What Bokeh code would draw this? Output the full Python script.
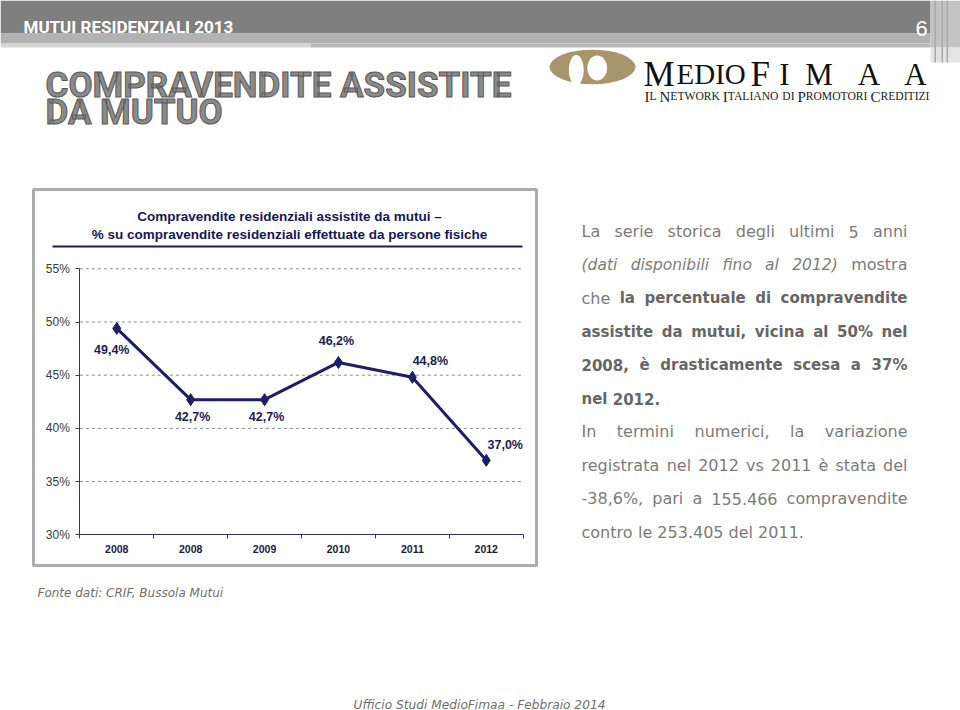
import numpy as np
from bokeh.plotting import figure
from bokeh.models import (Range1d, FixedTicker, PrintfTickFormatter, LabelSet, LinearAxis,
                          ColumnDataSource)
from bokeh.models.glyphs import Text
from bokeh.core.properties import value
from bokeh.embed import file_html
from bokeh.resources import INLINE

# ---------------- data ----------------
years = ["2008", "2008", "2009", "2010", "2011", "2012"]
share = [49.4, 42.7, 42.7, 46.2, 44.8, 37.0]
y_ticks = [30, 35, 40, 45, 50, 55]
y_min, y_max = 30, 55

# label offsets (px, up positive) - layout only
lab_dx = [-5, 2, 2, -2, 18, 19]
lab_dy = [-22, -17, -17, 21, 16, 15]

# ---------------- page layout (page pixels) ----------------
W, H = 960, 710
CX0, CX1 = 79.3, 522.7       # chart plot area, left / right
CY0, CY1 = 268.3, 534.3      # chart plot area, top / bottom

n = len(share)
xs = list(range(n))

ppx = (CX1 - CX0) / n
ppy = (CY1 - CY0) / (y_max - y_min)

p = figure(width=W, height=H, min_border=0,
           x_range=Range1d(0, W), y_range=Range1d(H, 0),
           x_axis_location=None, y_axis_location=None,
           toolbar_location=None, output_backend="svg", title=None)
p.background_fill_color = "white"
p.border_fill_color = "white"
p.outline_line_color = None
p.grid.visible = False

p.extra_x_ranges = {"cx": Range1d(-0.5 - CX0 / ppx, (n - 0.5) + (W - CX1) / ppx)}
p.extra_y_ranges = {"cy": Range1d(y_min - (H - CY1) / ppy, y_max + CY0 / ppy)}
C = dict(x_range_name="cx", y_range_name="cy")

NAVY = "#1d1d6a"
AXIS = "#33337a"
LABC = "#1c1c55"
HAS_OUTLINE = "text_outline_color" in Text.properties()


def box(X0, Y0, X1, Y1, fill=None, line=None, lw=1):
    p.quad(left=[X0], right=[X1], top=[Y0], bottom=[Y1],
           fill_color=fill if fill else "white", fill_alpha=1 if fill else 0,
           line_color=line, line_width=lw)


def txt(X, Y, text, size, color, font="DejaVu Sans", style="normal",
        align="left", baseline="alphabetic", outline=None):
    kw = {}
    if outline and HAS_OUTLINE:
        kw["text_outline_color"] = outline
    p.text(x=[X], y=[Y], text=[text], text_font=value(font),
           text_font_size=value(f"{size}px"), text_color=color,
           text_font_style=style, text_align=align, text_baseline=baseline, **kw)


# ---------------- header ----------------
box(0, 0, 930, 33, fill="#7f7f7f")
box(0, 33, 930, 43, fill="#b2b2b2")
box(0, 43, 310, 47, fill="#d6d6d6")
box(310, 43, 930, 47, fill="#b9b9b9")
box(930, 0, 960, 47, fill="#c2c2c2")
box(930, 47, 960, 62, fill="#e4e4e4")
for xv in (934, 941, 946):
    box(xv, 0, xv + 1.5, 62, fill="#a9a9a9")
txt(23, 26, "MUTUI RESIDENZIALI 2013", 17, "white", font="Roboto", style="bold")
txt(921, 28, "6", 22, "white", font="Liberation Sans", align="center")

# big title
txt(45, 85, "COMPRAVENDITE ASSISTITE", 35, "#8a8a8a", font="Roboto", style="bold",
    outline="#5a5a5a")
txt(45, 112, "DA MUTUO", 35, "#8a8a8a", font="Roboto", style="bold", outline="#5a5a5a")

# logo
GOLD = "#a8956b"
p.ellipse(x=[592], y=[66.5], width=[86], height=[34.6], fill_color=GOLD, line_color=None)
p.ellipse(x=[575.8, 596.7], y=[69.5, 67.5], width=[15, 20], height=[30, 25],
          fill_color="white", line_color=None)
SERIF = "Liberation Serif"
txt(643, 73.5, "M", 35, "#111111", font=SERIF)
txt(676, 73.5, "EDIO", 29, "#111111", font=SERIF)
txt(750, 73.5, "F", 35, "#111111", font=SERIF)
for cx, ch in zip((784, 818.5, 868.5, 915), "IMAA"):
    txt(cx, 73.5, ch, 31, "#111111", font=SERIF, align="center")

# small-caps strapline (Times metrics for sequential placement)
TIMES_W = {"A": .722, "C": .667, "D": .722, "E": .611, "I": .333, "K": .722, "L": .611,
           "M": .889, "N": .722, "O": .722, "P": .556, "R": .667, "T": .611, "W": .944,
           "Z": .611, " ": .25}
BIG, SMALL = 15, 11.6
pieces = [("I", BIG), ("L ", SMALL), ("N", BIG), ("ETWORK ", SMALL), ("I", BIG),
          ("TALIANO ", SMALL), ("DI ", SMALL), ("P", BIG), ("ROMOTORI ", SMALL),
          ("C", BIG), ("REDITIZI", SMALL)]
xp = 644
for s_, sz in pieces:
    txt(xp, 96, s_, sz, "#222222", font=SERIF)
    xp += sum(TIMES_W[c] for c in s_) * sz

# chart box and chart title
box(33, 189, 536, 565, fill=None, line="#acacac", lw=3)
txt(289, 216, "Compravendite residenziali assistite da mutui \u2013", 13.5, "#16165c",
    font="Liberation Sans", style="bold", align="center")
txt(289, 234, "% su compravendite residenziali effettuate da persone fisiche", 13.5,
    "#16165c", font="Liberation Sans", style="bold", align="center")
box(52, 245, 522, 247, fill="#1c1c66")

# ---------------- justified paragraph ----------------
REG_W = {" ": .318, "(": .390, ")": .390, ",": .318, ".": .318, "-": .361, "%": .950,
         "a": .613, "b": .635, "c": .550, "d": .635, "e": .615, "f": .352, "g": .635,
         "h": .634, "i": .278, "l": .278, "m": .974, "n": .634, "o": .612, "p": .635,
         "r": .411, "s": .521, "t": .392, "u": .634, "v": .592, "z": .525, "\u00e8": .615,
         "L": .557, "I": .295}
BLD_W = {" ": .348, ",": .380, ".": .380, "%": 1.002, "a": .675, "b": .716, "c": .593,
         "d": .716, "e": .678, "g": .716, "i": .343, "l": .343, "m": 1.042, "n": .712,
         "o": .687, "p": .716, "r": .493, "s": .595, "t": .478, "u": .712, "v": .652,
         "\u00e8": .678}
for d_, wdig in ((REG_W, .636), (BLD_W, .696)):
    for dg in "0123456789":
        d_[dg] = wdig

REG, BLD = "#7b7b7b", "#666666"
STY = {"r": (16, REG, "normal", REG_W), "b": (15, BLD, "bold", BLD_W),
       "i": (15.5, REG, "italic", REG_W)}
LEFT, RIGHT = 581, 907

para = [
    (True, [("La serie storica degli ultimi 5 anni", "r")]),
    (True, [("(dati disponibili fino al 2012)", "i"), ("mostra", "r")]),
    (True, [("che", "r"), ("la percentuale di compravendite", "b")]),
    (True, [("assistite da mutui, vicina al 50% nel", "b")]),
    (True, [("2008, \u00e8 drasticamente scesa a 37%", "b")]),
    (False, [("nel 2012.", "b")]),
    (True, [("In termini numerici, la variazione", "r")]),
    (True, [("registrata nel 2012 vs 2011 \u00e8 stata del", "r")]),
    (True, [("-38,6%, pari a 155.466 compravendite", "r")]),
    (False, [("contro le 253.405 del 2011.", "r")]),
]


def width(word, s):
    size, _, _, table = STY[s]
    return sum(table.get(c, 0.6) for c in word) * size


for k, (just, segs) in enumerate(para):
    base = 231 + 33.4 * k
    words = [(w, s) for seg, s in segs for w in seg.split(" ")]
    widths = [width(w, s) for w, s in words]
    if just:
        gap = (RIGHT - LEFT - sum(widths)) / (len(words) - 1)
    xpos = LEFT
    for j, ((w, s), ww) in enumerate(zip(words, widths)):
        size, col, fs, _ = STY[s]
        if just and j == len(words) - 1:
            txt(RIGHT, base, w, size, col, style=fs, align="right")
        else:
            txt(xpos, base, w, size, col, style=fs)
        xpos += ww + (gap if just else width(" ", s))

# footers
txt(37, 592, "Fonte dati: CRIF, Bussola Mutui", 12, "#6f6f6f", style="italic")
txt(353, 704, "Ufficio Studi MedioFimaa  - Febbraio 2014", 12.2, "#6f6f6f", style="italic")

# ---------------- chart ----------------
p.segment(x0=[-0.5] * (len(y_ticks) - 1), x1=[n - 0.5] * (len(y_ticks) - 1),
          y0=y_ticks[1:], y1=y_ticks[1:], line_color="#8a8a8a", line_dash="3 3",
          line_width=1, **C)

xaxis = LinearAxis(fixed_location=y_min, bounds=(-0.5, n - 0.5), **C)
xaxis.ticker = FixedTicker(ticks=xs, minor_ticks=[i - 0.5 for i in range(n + 1)])
xaxis.major_label_overrides = {i: lab for i, lab in enumerate(years)}
xaxis.major_tick_out = 0
xaxis.major_tick_in = 0
xaxis.minor_tick_out = 4
xaxis.minor_tick_in = 0
xaxis.axis_line_color = AXIS
xaxis.minor_tick_line_color = AXIS
xaxis.major_label_text_font = "Liberation Sans"
xaxis.major_label_text_font_style = "bold"
xaxis.major_label_text_font_size = "10.5px"
xaxis.major_label_text_color = "#1a1a40"
xaxis.major_label_standoff = 6
p.add_layout(xaxis, "below")

yaxis = LinearAxis(fixed_location=-0.5, bounds=(y_min, y_max), **C)
yaxis.ticker = FixedTicker(ticks=y_ticks)
yaxis.formatter = PrintfTickFormatter(format="%d%%")
yaxis.major_tick_out = 4
yaxis.major_tick_in = 0
yaxis.minor_tick_line_color = None
yaxis.axis_line_color = AXIS
yaxis.major_tick_line_color = AXIS
yaxis.major_label_text_font = "Liberation Sans"
yaxis.major_label_text_font_size = "12px"
yaxis.major_label_text_color = "#3a3a3a"
yaxis.major_label_standoff = 6
p.add_layout(yaxis, "left")

p.line(xs, share, line_color=NAVY, line_width=3, **C)
p.scatter(xs, share, marker="diamond", size=12, color=NAVY, **C)

src = ColumnDataSource(dict(x=xs, y=share,
                            t=[f"{v:.1f}".replace(".", ",") + "%" for v in share],
                            dx=lab_dx, dy=lab_dy))
p.add_layout(LabelSet(x="x", y="y", text="t", x_offset="dx", y_offset="dy", source=src,
                      text_align="center", text_baseline="middle",
                      text_font=value("Liberation Sans"), text_font_style="bold",
                      text_font_size="12.5px", text_color=LABC, **C))

open("out.html", "w").write(file_html(p, INLINE))
